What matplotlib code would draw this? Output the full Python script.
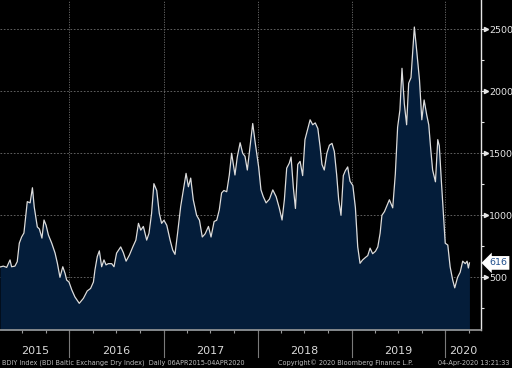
import matplotlib
matplotlib.use("Agg")
import matplotlib.pyplot as plt
import matplotlib.dates as mdates
import matplotlib.transforms as mtrans
import pandas as pd
import numpy as np

# BDIY weekly-ish readings
dates = [
    "2015-04-06", "2015-04-19", "2015-05-02", "2015-05-15", "2015-05-21", "2015-06-03", "2015-06-12", "2015-06-20",
    "2015-06-29", "2015-07-08", "2015-07-21", "2015-08-01", "2015-08-10", "2015-08-17", "2015-08-29", "2015-09-06",
    "2015-09-16", "2015-09-24", "2015-10-02", "2015-10-11", "2015-10-24", "2015-11-06", "2015-11-15", "2015-11-25",
    "2015-12-06", "2015-12-15", "2015-12-21", "2015-12-30", "2016-01-10", "2016-01-22", "2016-02-08", "2016-02-24",
    "2016-03-10", "2016-03-23", "2016-04-03", "2016-04-09", "2016-04-18", "2016-04-26", "2016-05-05", "2016-05-14",
    "2016-05-22", "2016-05-31", "2016-06-13", "2016-06-22", "2016-07-02", "2016-07-18", "2016-07-28", "2016-08-08",
    "2016-08-21", "2016-09-03", "2016-09-15", "2016-09-25", "2016-10-04", "2016-10-14", "2016-10-27", "2016-11-05",
    "2016-11-15", "2016-11-24", "2016-12-05", "2016-12-15", "2016-12-24", "2017-01-02", "2017-01-13", "2017-01-26",
    "2017-02-05", "2017-02-14", "2017-02-24", "2017-03-08", "2017-03-18", "2017-03-29", "2017-04-07", "2017-04-16",
    "2017-04-26", "2017-05-09", "2017-05-20", "2017-05-31", "2017-06-11", "2017-06-24", "2017-07-04", "2017-07-16",
    "2017-07-26", "2017-08-05", "2017-08-14", "2017-08-23", "2017-09-03", "2017-09-13", "2017-09-22", "2017-10-05",
    "2017-10-14", "2017-10-25", "2017-11-04", "2017-11-13", "2017-11-22", "2017-12-03", "2017-12-13", "2017-12-23",
    "2018-01-05", "2018-01-14", "2018-01-23", "2018-02-03", "2018-02-16", "2018-03-01", "2018-03-14", "2018-03-26",
    "2018-04-06", "2018-04-15", "2018-04-24", "2018-05-04", "2018-05-11", "2018-05-20", "2018-05-28", "2018-06-06",
    "2018-06-15", "2018-06-25", "2018-07-04", "2018-07-15", "2018-07-24", "2018-08-03", "2018-08-13", "2018-08-23",
    "2018-09-01", "2018-09-08", "2018-09-17", "2018-09-27", "2018-10-07", "2018-10-17", "2018-10-26", "2018-11-04",
    "2018-11-12", "2018-11-21", "2018-11-30", "2018-12-08", "2018-12-17", "2018-12-26", "2019-01-06", "2019-01-16",
    "2019-01-25", "2019-02-03", "2019-02-13", "2019-02-24", "2019-03-05", "2019-03-14", "2019-03-24", "2019-04-04",
    "2019-04-13", "2019-04-22", "2019-04-29", "2019-05-09", "2019-05-19", "2019-05-28", "2019-06-10", "2019-06-20",
    "2019-06-29", "2019-07-08", "2019-07-16", "2019-07-25", "2019-08-03", "2019-08-11", "2019-08-20", "2019-08-27",
    "2019-09-02", "2019-09-11", "2019-09-22", "2019-10-01", "2019-10-10", "2019-10-20", "2019-10-28", "2019-11-05",
    "2019-11-12", "2019-11-23", "2019-12-02", "2019-12-08", "2019-12-16", "2019-12-24", "2019-12-31", "2020-01-10",
    "2020-01-19", "2020-01-29", "2020-02-06", "2020-02-17", "2020-02-27", "2020-03-08", "2020-03-18", "2020-03-25",
    "2020-03-30", "2020-04-03",
]
values = [
    583, 590, 580, 640, 585, 590, 626, 775,
    825, 857, 1110, 1100, 1222, 1067, 906, 890,
    816, 962, 920, 841, 775, 695, 613, 500,
    585, 530, 478, 462, 398, 342, 290, 330,
    390, 410, 462, 560, 667, 713, 585, 640,
    600, 610, 610, 585, 695, 745, 700, 630,
    680, 745, 800, 935, 880, 910, 800, 855,
    1015, 1255, 1200, 1015, 935, 960, 920, 800,
    720, 685, 855, 1070, 1200, 1338, 1230, 1300,
    1125, 1000, 960, 825, 850, 910, 825, 950,
    960, 1043, 1180, 1200, 1190, 1325, 1500, 1325,
    1470, 1585, 1500, 1475, 1365, 1560, 1740, 1580,
    1390, 1205, 1150, 1100, 1130, 1205, 1150, 1060,
    962, 1125, 1380, 1420, 1470, 1220, 1055, 1410,
    1435, 1320, 1610, 1700, 1770, 1730, 1745, 1700,
    1550, 1410, 1365, 1500, 1565, 1580, 1515, 1330,
    1125, 1000, 1320, 1360, 1390, 1275, 1240, 1060,
    745, 613, 640, 660, 675, 735, 690, 710,
    745, 855, 1000, 1030, 1080, 1125, 1060, 1330,
    1710, 1850, 2185, 1900, 1730, 2065, 2110, 2330,
    2518, 2330, 2090, 1770, 1930, 1810, 1730, 1525,
    1365, 1270, 1610, 1560, 1275, 1015, 775, 760,
    585, 478, 415, 500, 540, 630, 610, 630,
    575, 616,
]
years = [2015, 2016, 2017, 2018, 2019, 2020]
yticks = [500, 1000, 1500, 2000, 2500]
last_value = 616

t = pd.to_datetime(dates)
xmin = pd.Timestamp("2015-04-06")
xmax = pd.Timestamp("2020-05-18")

fig = plt.figure(figsize=(5.12, 3.68), dpi=100, facecolor="black")
ax = fig.add_axes([0, 38 / 368, 481 / 512, 330 / 368], facecolor="black")

ax.fill_between(t, values, 0, color="#041d3a", lw=0)
ax.plot(t, values, color="#dcdcdc", lw=0.9)

ax.set_xlim(xmin, xmax)
ax.set_ylim(75, 2736)

# grid
for v in yticks:
    ax.axhline(v, color="#6e6e6e", lw=0.6, ls=(0, (2, 2)), zorder=0.5)
for yr in years[1:]:
    ax.axvline(pd.Timestamp(f"{yr}-01-01"), color="#6e6e6e", lw=0.6, ls=(0, (1.5, 1.5)), zorder=0.5)

# spines
for s in ["left", "top"]:
    ax.spines[s].set_visible(False)
ax.spines["right"].set_color("#e6e6e6")
ax.spines["right"].set_linewidth(1.0)
ax.spines["bottom"].set_color("#9a9a9a")
ax.spines["bottom"].set_linewidth(1.2)

# y axis on the right
ax.yaxis.tick_right()
ax.set_yticks(yticks)
ax.set_yticks(np.arange(250, 2750, 500), minor=True)
ax.set_yticklabels([str(v) for v in yticks])
ax.tick_params(axis="y", which="major", length=2.5, width=0.8, color="#e6e6e6",
               labelcolor="#e4e4e4", labelsize=6.8, pad=3.2)
ax.tick_params(axis="y", which="minor", length=2, width=0.8, color="#e6e6e6")
tri = mtrans.offset_copy(ax.get_yaxis_transform(), fig=fig, x=4.5, y=0, units="dots")
ax.plot([1.0] * len(yticks), yticks, ls="none", marker=">", ms=3.0, color="#e6e6e6",
        transform=tri, clip_on=False)

# x axis: quarterly ticks, labels drawn by hand
ax.xaxis.set_major_locator(mdates.MonthLocator(bymonth=[1, 4, 7, 10]))
ax.set_xticklabels([])
ax.tick_params(axis="x", which="major", length=2.5, width=0.8, color="#9a9a9a", direction="out")

xt = ax.get_xaxis_transform()
for i, yr in enumerate(years):
    start = max(pd.Timestamp(f"{yr}-01-01"), xmin)
    end = min(pd.Timestamp(f"{yr + 1}-01-01"), xmax)
    mid = start + (end - start) / 2
    ax.text(mid, -21 / 330, str(yr), transform=xt, ha="center", va="center",
            color="#d8d8d8", fontsize=8)
    if yr > years[0]:
        ax.plot([start, start], [0, -27 / 330], transform=xt, color="#7a7a7a",
                lw=0.8, clip_on=False)

# last value tag
tag = mtrans.offset_copy(ax.get_yaxis_transform(), fig=fig, x=8, y=0, units="dots")
ax.text(1.0, last_value, str(last_value), transform=tag, ha="left", va="center",
        color="#1f4e8c", fontsize=6.8,
        bbox=dict(boxstyle="larrow,pad=0.25", fc="white", ec="none"))

# footer
fig.text(2 / 512, 5 / 368, "BDIY Index (BDI Baltic Exchange Dry Index)  Daily 06APR2015-04APR2020",
         color="#bdbdbd", fontsize=4.7, ha="left", va="center")
fig.text(278 / 512, 5 / 368, "Copyright\u00a9 2020 Bloomberg Finance L.P.",
         color="#bdbdbd", fontsize=4.7, ha="left", va="center")
fig.text(510 / 512, 5 / 368, "04-Apr-2020 13:21:33",
         color="#bdbdbd", fontsize=4.7, ha="right", va="center")

fig.savefig("out.png", dpi=100, facecolor="black")
